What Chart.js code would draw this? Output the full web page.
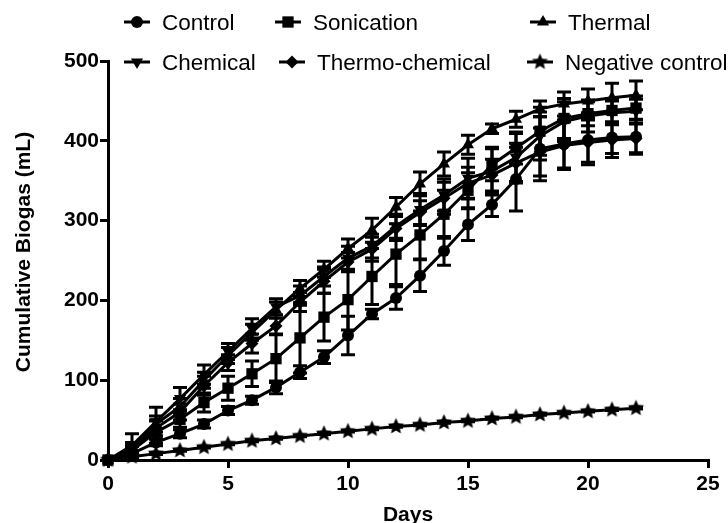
<!DOCTYPE html>
<html>
<head>
<meta charset="utf-8">
<script src="https://cdn.jsdelivr.net/npm/chart.js@4/dist/chart.umd.min.js"></script>
<style>
  html, body { margin: 0; padding: 0; background: #fff; }
  #wrap { width: 728px; height: 523px; }
</style>
</head>
<body>
<div id="wrap"><canvas id="c" width="728" height="523"></canvas></div>
<script>
// Digestion days
const days = [0, 1, 2, 3, 4, 5, 6, 7, 8, 9, 10, 11, 12, 13, 14, 15, 16, 17, 18, 19, 20, 21, 22];

// Mean cumulative biogas (mL) per treatment
const control        = [0, 8, 22, 33, 45, 62, 75, 91, 110, 129, 156, 183, 203, 231, 262, 295, 320, 352, 390, 396, 401, 404, 405];
const sonication     = [0, 12, 35, 51, 72, 90, 108, 127, 153, 179, 201, 230, 258, 282, 308, 338, 370, 391, 412, 428, 434, 438, 441];
const thermal        = [0, 15, 45, 67, 100, 131, 160, 188, 215, 239, 265, 288, 317, 346, 371, 395, 415, 427, 440, 446, 450, 454, 457];
const chemical       = [0, 18, 48, 77, 107, 136, 165, 192, 206, 230, 253, 268, 293, 314, 332, 353, 362, 379, 406, 424, 431, 435, 437];
const thermoChemical = [0, 12, 40, 60, 93, 122, 146, 168, 198, 224, 248, 264, 290, 310, 328, 347, 357, 372, 386, 394, 398, 401, 403];
const negControl     = [0, 4, 8, 12, 16, 20, 24, 27, 30, 33, 36, 39, 42, 44, 47, 49, 52, 54, 57, 59, 61, 63, 65];

// Standard deviations (mL)
const controlSd        = [0, 3, 4, 5, 5, 5, 5, 8, 8, 8, 24, 6, 14, 20, 18, 20, 15, 40, 40, 30, 28, 20, 22];
const sonicationSd     = [0, 10, 14, 10, 12, 15, 16, 30, 44, 30, 38, 35, 38, 30, 30, 22, 20, 20, 30, 25, 15, 15, 15];
const thermalSd        = [0, 5, 10, 10, 10, 10, 10, 10, 10, 10, 12, 15, 12, 15, 15, 12, 6, 10, 10, 15, 15, 18, 18];
const chemicalSd       = [0, 15, 18, 14, 12, 10, 12, 10, 12, 12, 15, 15, 15, 20, 20, 25, 30, 30, 30, 25, 20, 15, 15];
const thermoChemicalSd = [0, 5, 10, 10, 12, 10, 12, 10, 12, 15, 12, 15, 15, 15, 20, 20, 20, 25, 30, 30, 28, 22, 18];
const negControlSd     = [0, 1, 1, 1, 1, 1, 1, 1, 1, 1, 1, 1, 1, 1, 1, 1, 1, 1, 1, 1, 1, 1, 1];

// Axis ticks and titles
const xTicks = [0, 5, 10, 15, 20, 25];
const yTicks = [0, 100, 200, 300, 400, 500];
const xTitle = 'Days';
const yTitle = 'Cumulative Biogas (mL)';

const seriesNames = ['Control', 'Sonication', 'Thermal', 'Chemical', 'Thermo-chemical', 'Negative control'];

// Filled five-point star used as a point marker
function makeStar(r) {
  const s = Math.ceil(r * 2) + 2;
  const c = document.createElement('canvas');
  c.width = s; c.height = s;
  const g = c.getContext('2d');
  g.beginPath();
  for (let i = 0; i < 10; i++) {
    const a = -Math.PI / 2 + i * Math.PI / 5;
    const rr = i % 2 ? r * 0.46 : r;
    g.lineTo(s / 2 + rr * Math.cos(a), s / 2 + rr * Math.sin(a));
  }
  g.closePath();
  g.fillStyle = '#000';
  g.fill();
  return c;
}
const starImg = makeStar(8.5);

const FONT = "'Liberation Sans', Arial, Helvetica, sans-serif";
const LINE_W = 3;

function series(label, data, sd, style, radius, rotation) {
  return {
    label, data: days.map((d, i) => ({ x: d, y: data[i] })), sd,
    borderColor: '#000', backgroundColor: '#000',
    borderWidth: LINE_W, pointStyle: style, pointRadius: radius, pointHoverRadius: radius,
    pointRotation: rotation || 0, pointBorderWidth: 0, pointBorderColor: '#000',
    tension: 0, clip: false, fill: false
  };
}

const datasets = [
  series(seriesNames[0], control, controlSd, 'circle', 6),
  series(seriesNames[1], sonication, sonicationSd, 'rect', 8),
  series(seriesNames[2], thermal, thermalSd, 'triangle', 7),
  series(seriesNames[3], chemical, chemicalSd, 'triangle', 7, 180),
  series(seriesNames[4], thermoChemical, thermoChemicalSd, 'rectRot', 6.5),
  series(seriesNames[5], negControl, negControlSd, starImg, 8)
];

// Vertical error bars with caps, placed through the chart scales
const errorBars = {
  id: 'errorBars',
  afterDatasetsDraw(chart) {
    const ctx = chart.ctx;
    const xs = chart.scales.x, ys = chart.scales.y;
    ctx.save();
    ctx.strokeStyle = '#000';
    ctx.lineWidth = LINE_W;
    ctx.lineCap = 'butt';
    chart.data.datasets.forEach(ds => {
      ds.data.forEach((p, j) => {
        const e = ds.sd[j];
        if (!e) return;
        const x = xs.getPixelForValue(p.x);
        const yt = ys.getPixelForValue(p.y + e);
        const yb = ys.getPixelForValue(p.y - e);
        ctx.beginPath();
        ctx.moveTo(x, yt); ctx.lineTo(x, yb);
        ctx.moveTo(x - 7, yt); ctx.lineTo(x + 7, yt);
        ctx.moveTo(x - 7, yb); ctx.lineTo(x + 7, yb);
        ctx.stroke();
      });
    });
    ctx.restore();
  }
};

// Two-row legend with line-and-marker swatches
const legendSlots = [
  { x: 137, y: 22 }, { x: 288, y: 22 }, { x: 543, y: 22 },
  { x: 137, y: 62 }, { x: 292, y: 62 }, { x: 540, y: 62 }
];
const gridLegend = {
  id: 'gridLegend',
  afterDraw(chart) {
    const ctx = chart.ctx;
    ctx.save();
    chart.data.datasets.forEach((ds, i) => {
      const s = legendSlots[i];
      ctx.strokeStyle = '#000';
      ctx.lineWidth = LINE_W;
      ctx.beginPath();
      ctx.moveTo(s.x - 13, s.y); ctx.lineTo(s.x + 13, s.y);
      ctx.stroke();
      ctx.fillStyle = '#000';
      Chart.helpers.drawPoint(ctx, {
        pointStyle: ds.pointStyle, radius: ds.pointRadius, rotation: ds.pointRotation, borderWidth: 0
      }, s.x, s.y);
      ctx.fillStyle = '#000';
      ctx.font = '22.5px ' + FONT;
      ctx.textBaseline = 'alphabetic';
      ctx.textAlign = 'left';
      ctx.fillText(ds.label, s.x + 25, s.y + 8);
    });
    ctx.restore();
  }
};

// Axis titles
const axisTitles = {
  id: 'axisTitles',
  afterDraw(chart) {
    const ctx = chart.ctx;
    const area = chart.chartArea;
    ctx.save();
    ctx.fillStyle = '#000';
    ctx.font = 'bold 21px ' + FONT;
    ctx.textAlign = 'center';
    ctx.textBaseline = 'alphabetic';
    ctx.fillText(xTitle, (area.left + area.right) / 2, 521);
    ctx.translate(30, 252);
    ctx.rotate(-Math.PI / 2);
    ctx.fillText(yTitle, 0, 0);
    ctx.restore();
  }
};

const tickFont = { family: FONT, size: 21, weight: 'bold' };

new Chart(document.getElementById('c'), {
  type: 'line',
  data: { datasets },
  options: {
    responsive: false,
    animation: false,
    devicePixelRatio: 1,
    layout: { padding: { top: 61, right: 20, left: 0, bottom: 0 } },
    plugins: { legend: { display: false }, tooltip: { enabled: false } },
    scales: {
      x: {
        type: 'linear', min: 0, max: 25,
        afterBuildTicks(scale) { scale.ticks = xTicks.map(v => ({ value: v })); },
        afterFit(scale) { scale.height = 63; },
        grid: { display: true, drawOnChartArea: false, drawTicks: true, tickLength: 8, lineWidth: 3, color: '#000' },
        border: { display: true, width: 3, color: '#000' },
        ticks: { font: tickFont, color: '#000', padding: 4, maxRotation: 0 },
        title: { display: false }
      },
      y: {
        type: 'linear', min: 0, max: 500,
        afterBuildTicks(scale) { scale.ticks = yTicks.map(v => ({ value: v })); },
        afterFit(scale) { scale.width = 108; },
        grid: { display: true, drawOnChartArea: false, drawTicks: true, tickLength: 8, lineWidth: 3, color: '#000' },
        border: { display: true, width: 3, color: '#000' },
        ticks: { font: tickFont, color: '#000', padding: 1 },
        title: { display: false }
      }
    }
  },
  plugins: [errorBars, gridLegend, axisTitles]
});
</script>
</body>
</html>
